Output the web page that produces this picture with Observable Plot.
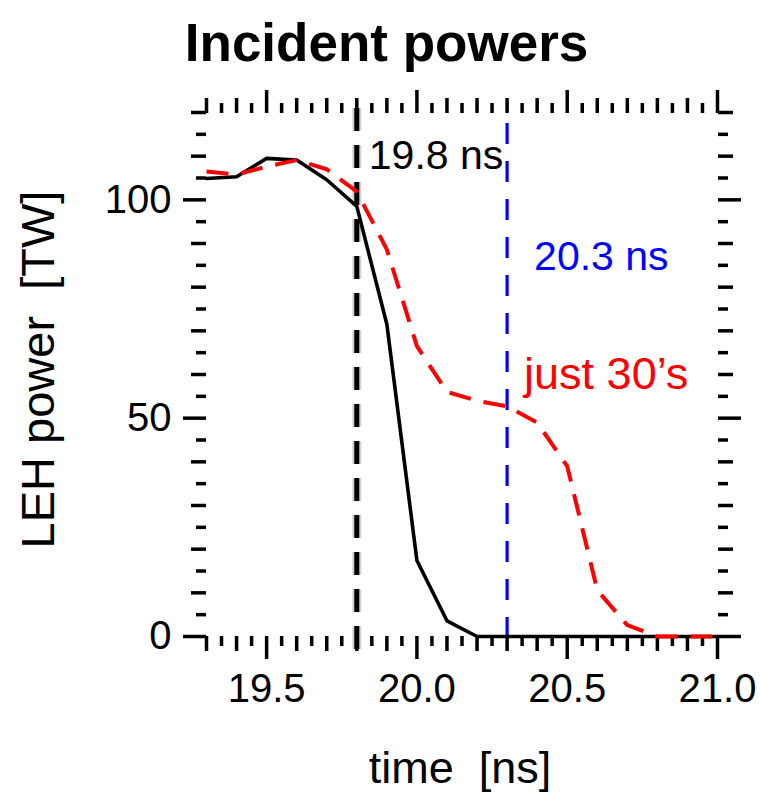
<!DOCTYPE html>
<html>
<head>
<meta charset="utf-8">
<script src="https://cdn.jsdelivr.net/npm/d3@7"></script>
<script src="https://cdn.jsdelivr.net/npm/@observablehq/plot@0.6"></script>
<style>
  html, body { margin: 0; padding: 0; background: #fff; }
  #chart svg { display: block; }
</style>
</head>
<body>
<div id="chart"></div>
<script>
// Time samples (ns) and incident LEH power (TW) for the two cases
const time = [19.3, 19.4, 19.5, 19.6, 19.7, 19.8, 19.9, 20.0, 20.1, 20.2, 20.3, 20.4, 20.5, 20.6, 20.7, 20.8, 20.9, 21.0];
const allBeams = [104.9, 105.3, 109.5, 109.1, 104.6, 98.5, 71.5, 17.4, 3.6, 0, 0, 0, 0, 0, 0, 0, 0, 0];
const just30s = [106.5, 105.8, 107.6, 109.1, 107.0, 101.9, 88.6, 66.5, 56.0, 54.0, 52.7, 49.0, 39.0, 10.6, 2.6, 0, 0, 0];

// Marker times (ns)
const markerBlack = 19.8;
const markerBlue = 20.3;

// Tick labels
const xTickLabels = [19.5, 20.0, 20.5, 21.0];
const yTickLabels = [0, 50, 100];

const seriesLabel = "just 30\u2019s";
const titleText = "Incident powers";
const xLabel = "time  [ns]";
const yLabel = "LEH power  [TW]";

const xDomain = [19.3, 21.0];
const yDomain = [0, 120];

const rows = time.map((t, i) => ({t, all: allBeams[i], part: just30s[i]}));

// Tick positions: short every 0.05 / 5, medium every 0.1 / 10, long at labelled values
const round = (v, k) => Math.round(v * k) / k;
const xAll = d3.range(0, 35).map(i => round(19.3 + i * 0.05, 100));
const xShort = xAll.filter(v => Math.round(v * 100) % 10 !== 0);
const xMid = xAll.filter(v => Math.round(v * 100) % 10 === 0 && Math.round(v * 100) % 50 !== 0);
const yAll = d3.range(0, 25).map(i => i * 5);
const yShort = yAll.filter(v => v % 10 !== 0);
const yMid = yAll.filter(v => v % 10 === 0 && v % 50 !== 0);

const font = "'Liberation Sans', Arial, Helvetica, sans-serif";
const tickW = 3.5;
const S = 10, M = 15, L = 23;

function tickSet(kind, anchor) {
  const axis = kind === "x" ? Plot.axisX : Plot.axisY;
  const major = kind === "x" ? xTickLabels : yTickLabels;
  const shorts = kind === "x" ? xShort : yShort;
  const mids = kind === "x" ? xMid : yMid;
  const showText = anchor === "bottom" || anchor === "left";
  return [
    axis(shorts, {anchor, tickSize: S, strokeWidth: tickW, fill: "none", label: null}),
    axis(mids, {anchor, tickSize: M, strokeWidth: tickW, fill: "none", label: null}),
    axis(major, {
      anchor, tickSize: L, strokeWidth: tickW, label: null,
      fill: showText ? "black" : "none",
      tickPadding: kind === "x" ? 14 : 12,
      tickFormat: kind === "x" ? d3.format(".1f") : d3.format("d"),
      fontSize: 40
    })
  ];
}

const chart = Plot.plot({
  width: 760,
  height: 793,
  marginLeft: 206,
  marginRight: 43,
  marginTop: 112,
  marginBottom: 157,
  style: {fontFamily: font, fontSize: "40px", background: "#fff", color: "black", overflow: "visible"},
  x: {domain: xDomain, axis: null},
  y: {domain: yDomain, axis: null},
  marks: [
    ...tickSet("x", "bottom"),
    ...tickSet("x", "top"),
    ...tickSet("y", "left"),
    ...tickSet("y", "right"),

    // vertical time markers
    Plot.ruleX([markerBlack], {stroke: "#000", strokeOpacity: 0.18, strokeWidth: 9, strokeDasharray: "23,14", insetTop: -4, insetBottom: -14}),
    Plot.ruleX([markerBlack], {stroke: "#000", strokeWidth: 5, strokeDasharray: "23,14", insetTop: -4, insetBottom: -14}),
    Plot.ruleX([markerBlue], {stroke: "#0000ff", strokeWidth: 3.2, strokeDasharray: "21,17", insetTop: 11}),

    // power curves
    Plot.line(rows, {x: "t", y: "all", stroke: "#000", strokeWidth: 3.6, strokeLinejoin: "miter"}),
    Plot.line(rows, {x: "t", y: "part", stroke: "#ff0000", strokeWidth: 4, strokeDasharray: "22,13", strokeLinecap: "butt", strokeLinejoin: "round"}),

    // annotations
    Plot.text([markerBlack], {x: d => d, text: d => `${d.toFixed(1)} ns`, frameAnchor: "top", lineAnchor: "bottom", textAnchor: "start", dx: 12, dy: 56, fill: "#000", fontSize: 41}),
    Plot.text([markerBlue], {x: d => d, text: d => `${d.toFixed(1)} ns`, frameAnchor: "top", lineAnchor: "bottom", textAnchor: "start", dx: 27, dy: 157, fill: "#0000ff", fontSize: 41}),
    Plot.text([seriesLabel], {x: [markerBlue], text: d => d, frameAnchor: "top", lineAnchor: "bottom", textAnchor: "start", dx: 17, dy: 276, fill: "#ff0000", fontSize: 45}),

    // title and axis labels
    Plot.text([titleText], {text: d => d, frameAnchor: "top-left", lineAnchor: "bottom", textAnchor: "middle", dx: 180, dy: -52, fontSize: 53, fontWeight: "bold", fill: "#000"}),
    Plot.text([xLabel], {text: d => d, frameAnchor: "bottom", lineAnchor: "bottom", textAnchor: "middle", dx: -2, dy: 146, fontSize: 45, fill: "#000"}),
    Plot.text([yLabel], {text: d => d, frameAnchor: "left", lineAnchor: "bottom", textAnchor: "middle", rotate: -90, dx: -153, dy: -5, fontSize: 47, fill: "#000"})
  ]
});

document.getElementById("chart").appendChild(chart);
</script>
</body>
</html>
